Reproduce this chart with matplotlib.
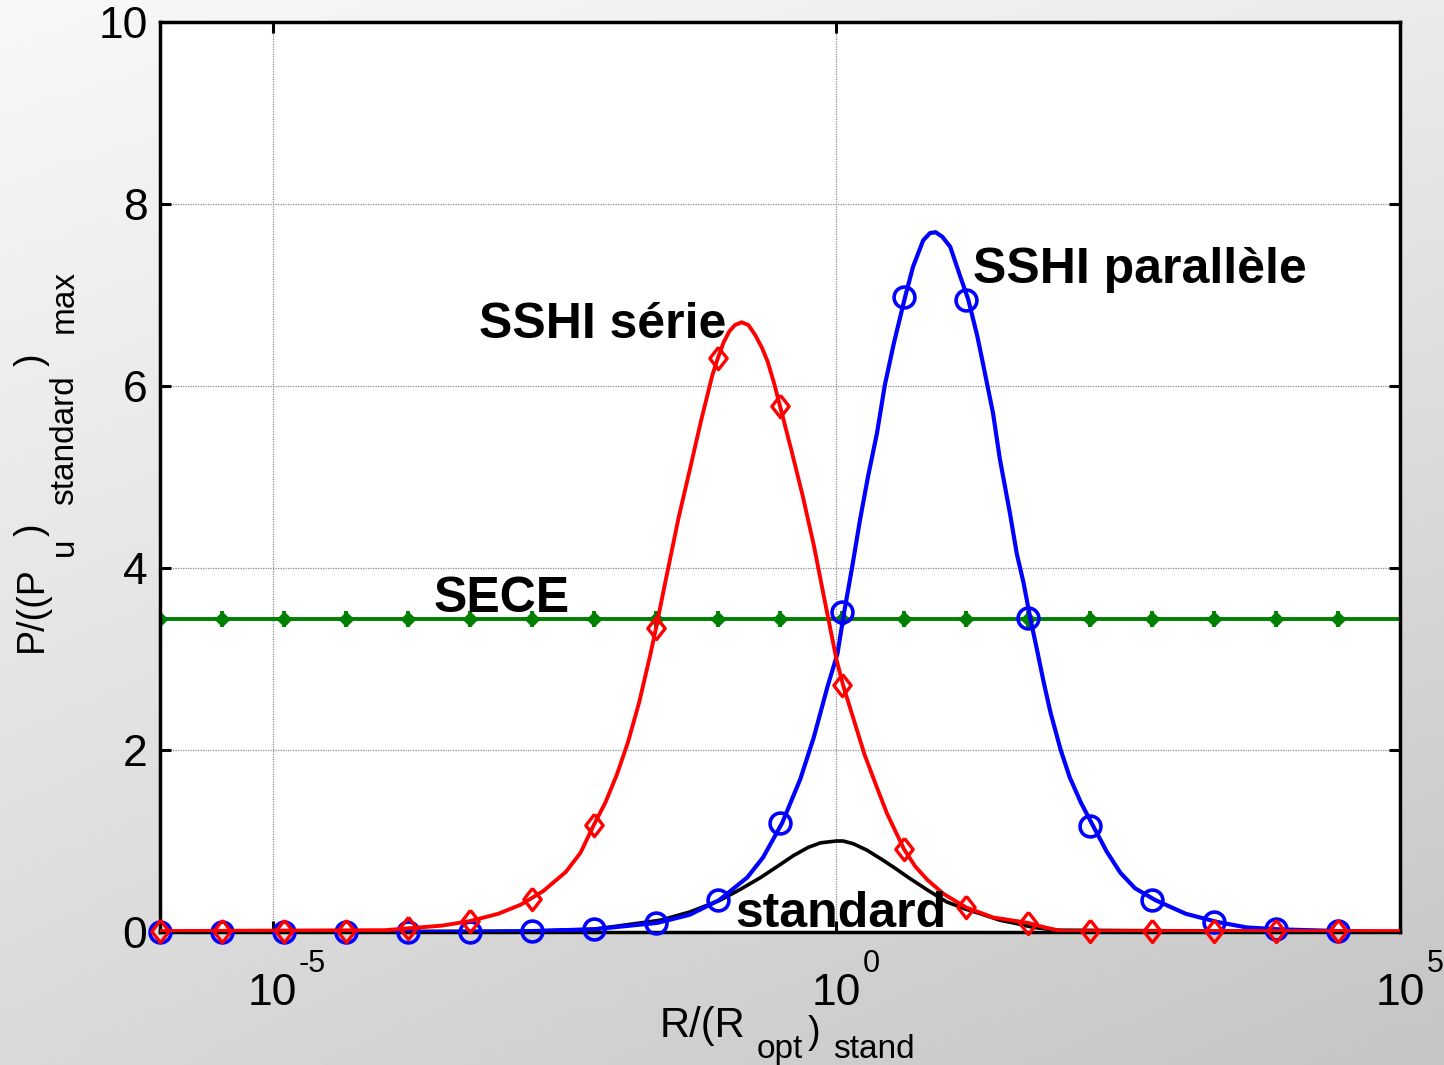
import numpy as np
import matplotlib
matplotlib.use("Agg")
import matplotlib.pyplot as plt
from matplotlib.ticker import NullLocator

plt.rcParams['font.family'] = ['Liberation Sans', 'DejaVu Sans']

# curves: x given as log10(R/(R_opt)_stand)
red_exp = [-6.0, -4.0, -3.8, -3.5, -3.25, -3.0, -2.8, -2.6, -2.4, -2.27, -2.15, -2.05,
           -1.95, -1.85, -1.75, -1.65, -1.60, -1.5, -1.4, -1.3, -1.2, -1.1, -1.05, -1.0,
           -0.95, -0.9, -0.84, -0.78, -0.72, -0.66, -0.61, -0.55, -0.5, -0.4, -0.3, -0.2,
           -0.1, 0.0, 0.06, 0.15, 0.25, 0.35, 0.45, 0.6, 0.7, 0.81, 0.95, 1.15,
           1.39, 1.7, 1.85, 2.0, 5.0]
red_val = [0.01, 0.02, 0.04, 0.07, 0.12, 0.20, 0.30, 0.45, 0.66, 0.87, 1.18, 1.42,
           1.72, 2.08, 2.52, 3.05, 3.34, 3.95, 4.55, 5.08, 5.62, 6.12, 6.31, 6.48,
           6.60, 6.67, 6.70, 6.67, 6.56, 6.42, 6.27, 6.02, 5.78, 5.30, 4.80, 4.25,
           3.62, 3.00, 2.71, 2.35, 1.95, 1.62, 1.30, 0.91, 0.72, 0.57, 0.42, 0.27,
           0.16, 0.10, 0.05, 0.01, 0.01]

blue_exp = [-6.0, -3.2, -2.70, -2.15, -1.59, -1.30, -1.04, -0.79, -0.65, -0.48, -0.32, -0.20,
            -0.08, 0.01, 0.07, 0.14, 0.21, 0.28, 0.36, 0.43, 0.51, 0.61, 0.68, 0.77,
            0.83, 0.88, 0.94, 1.01, 1.10, 1.17, 1.25, 1.30, 1.39, 1.45, 1.54, 1.60,
            1.66, 1.72, 1.78, 1.84, 1.90, 1.99, 2.07, 2.17, 2.28, 2.40, 2.52, 2.65,
            2.83, 3.10, 3.38, 3.64, 3.91, 4.47, 5.0]
blue_val = [0.0, 0.0, 0.01, 0.03, 0.10, 0.19, 0.35, 0.60, 0.82, 1.20, 1.68, 2.14,
            2.69, 3.06, 3.52, 4.01, 4.53, 5.00, 5.48, 6.01, 6.47, 6.98, 7.31, 7.60,
            7.68, 7.69, 7.64, 7.53, 7.20, 6.95, 6.55, 6.25, 5.70, 5.20, 4.60, 4.16,
            3.84, 3.45, 3.10, 2.74, 2.41, 2.00, 1.70, 1.42, 1.16, 0.88, 0.65, 0.48,
            0.35, 0.20, 0.11, 0.05, 0.03, 0.01, 0.0]

black_exp = [-6.0, -2.7, -2.15, -1.56, -1.3, -1.03, -0.85, -0.67, -0.5, -0.38, -0.25, -0.14,
             0.0, 0.06, 0.15, 0.27, 0.4, 0.51, 0.65, 0.81, 0.98, 1.15, 1.28, 1.45,
             1.57, 1.75, 1.96, 5.0]
black_val = [0.0, 0.01, 0.03, 0.13, 0.22, 0.35, 0.47, 0.60, 0.74, 0.84, 0.93, 0.98,
             1.0, 1.0, 0.97, 0.90, 0.80, 0.71, 0.59, 0.46, 0.33, 0.25, 0.20, 0.13,
             0.10, 0.05, 0.02, 0.0]

sece_exp = [-6.0, 5.0]
sece_val = [3.44, 3.44]

# marker positions and values
mark_exp = [-6.0, -5.45, -4.9, -4.35, -3.8, -3.25, -2.7, -2.15, -1.6, -1.05,
            -0.5, 0.05, 0.6, 1.15, 1.7, 2.25, 2.8, 3.35, 3.9, 4.45]
red_mark = [0.01, 0.01, 0.01, 0.01, 0.04, 0.12, 0.36, 1.18, 3.34, 6.31,
            5.78, 2.71, 0.91, 0.27, 0.10, 0.01, 0.01, 0.01, 0.01, 0.01]
blue_mark = [0.0, 0.0, 0.0, 0.0, 0.0, 0.0, 0.01, 0.03, 0.10, 0.35,
             1.20, 3.52, 6.98, 6.95, 3.45, 1.16, 0.35, 0.11, 0.03, 0.01]
sece_mark = [3.44] * len(mark_exp)

xtick_exp = [-5, 0, 5]
ytick_vals = [0, 2, 4, 6, 8, 10]

W, H = 1444, 1065


def p10(e):
    return [10.0 ** v for v in e]


fig = plt.figure(figsize=(W / 100, H / 100), dpi=100)

# grey gradient background
bg = fig.add_axes([0, 0, 1, 1], zorder=0)
yy, xx = np.mgrid[0:1:200j, 0:1:200j]
shade = 0.97 - 0.12 * yy - 0.05 * xx - 0.03 * xx * yy
bg.imshow(shade, cmap='gray', vmin=0, vmax=1, aspect='auto', extent=[0, 1, 0, 1],
          origin='upper')
bg.axis('off')

ax = fig.add_axes([160 / W, 1 - 932 / H, 1240 / W, 910 / H], zorder=1)
ax.set_facecolor('white')

diamond = [(0, 1), (0.78, 0), (0, -1), (-0.78, 0), (0, 1)]

ax.plot(p10(sece_exp), sece_val, color='#008000', lw=2.8, zorder=2)
ax.plot(p10(mark_exp), sece_mark, ls='none', marker='D', ms=7, color='#008000', zorder=2)
ax.plot(p10(mark_exp), sece_mark, ls='none', marker='+', ms=12, mew=2.8, color='#008000', zorder=2)

ax.plot(p10(black_exp), black_val, color='black', lw=2.6, zorder=3)

ax.plot(p10(blue_exp), blue_val, color='blue', lw=3.0, zorder=4)
ax.plot(p10(mark_exp), blue_mark, ls='none', marker='o', ms=15, mew=2.6,
        mfc='none', mec='blue', zorder=4, clip_on=False)

ax.plot(p10(red_exp), red_val, color='red', lw=2.8, zorder=5)
ax.plot(p10(mark_exp), red_mark, ls='none', marker=diamond, ms=16, mew=2.4,
        mfc='none', mec='red', zorder=5, clip_on=False)

ax.set_xscale('log')
ax.set_xlim(1e-6, 1e5)
ax.set_ylim(0, 10)
ax.set_xticks(p10(xtick_exp))
ax.xaxis.set_minor_locator(NullLocator())
ax.set_xticklabels([''] * len(xtick_exp))
ax.set_yticks(ytick_vals)
ax.set_yticklabels([str(v) for v in ytick_vals], fontsize=32)
ax.tick_params(which='both', direction='in', top=True, right=True, length=8, width=2.2, pad=9)
ax.grid(True, color='#8a8a8a', linestyle=(0, (1, 1)), linewidth=0.9)
for s in ax.spines.values():
    s.set_linewidth(2.5)

# MATLAB-like 10^n tick labels
for e in xtick_exp:
    ax.annotate('10', xy=(10.0 ** e, 0), xycoords=('data', 'axes fraction'),
                xytext=(0, -52.5), textcoords='offset points',
                ha='center', va='baseline', fontsize=32, annotation_clip=False)
    ax.annotate(str(e), xy=(10.0 ** e, 0), xycoords=('data', 'axes fraction'),
                xytext=(19, -28.5), textcoords='offset points',
                ha='left', va='baseline', fontsize=22, annotation_clip=False)

# axis labels built piece by piece (MATLAB tex style subscripts)
ylabel_parts = [('P/((P', 27, 652, 42), ('u', 24, 556, 73), (')', 27, 536, 42),
                ('standard', 24, 505, 73), (')', 27, 366, 42), ('max', 24, 333, 73)]
for txt, fs, ypx, xpx in ylabel_parts:
    fig.text(xpx / W, 1 - ypx / H, txt, fontsize=fs, rotation=90,
             rotation_mode='anchor', ha='left', va='baseline')

xlabel_parts = [('R/(R', 30, 660, 1037), ('opt', 24, 757, 1058), (')', 27, 808, 1043),
                ('stand', 24, 833, 1058)]
for txt, fs, xpx, ypx in xlabel_parts:
    fig.text(xpx / W, 1 - ypx / H, txt, fontsize=fs, ha='left', va='baseline')

ax.text(10 ** -3.17, 6.53, 'SSHI série', fontsize=36, fontweight='bold', zorder=6)
ax.text(10 ** 1.215, 7.13, 'SSHI parallèle', fontsize=36, fontweight='bold', zorder=6)
ax.text(10 ** -3.57, 3.52, 'SECE', fontsize=36, fontweight='bold', zorder=6)
ax.text(10 ** -0.895, 0.055, 'standard', fontsize=36, fontweight='bold', zorder=6)

fig.savefig('out.png', dpi=100)
